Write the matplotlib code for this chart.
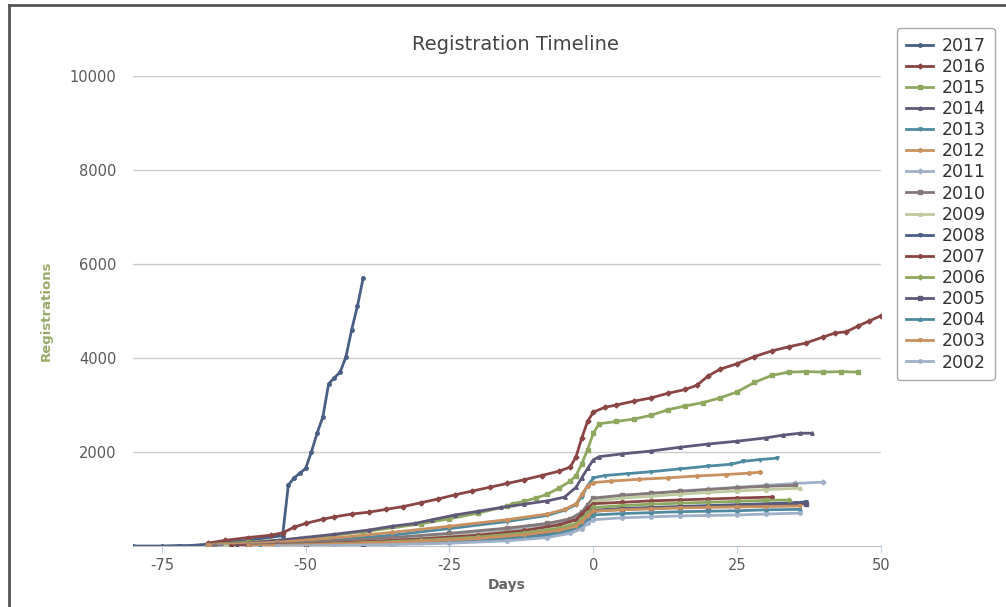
import numpy as np
import matplotlib.pyplot as plt
from matplotlib.lines import Line2D

plt.rcParams['font.family'] = ['DejaVu Sans']
plt.rcParams['axes.unicode_minus'] = False

# series in legend order (day, registrations)
years = ['2017', '2016', '2015', '2014', '2013', '2012', '2011', '2010',
         '2009', '2008', '2007', '2006', '2005', '2004', '2003', '2002']

days_2017 = [-80, -75, -72, -70, -67, -60, -54, -53, -52, -51, -50, -49, -48, -47, -46, -45, -44, -43, -42, -41, -40]
vals_2017 = [0, 0, 10, 10, 40, 120, 220, 1300, 1450, 1550, 1650, 2000, 2400, 2750, 3450, 3580, 3700, 4020, 4600, 5100, 5700]

days_2016 = [-67, -64, -60, -56, -54, -52, -50, -47, -45, -42, -39, -36, -33, -30, -27, -24, -21, -18, -15, -12,
             -9, -6, -4, -3, -2, -1, 0, 2, 4, 7, 10, 13, 16, 18, 20, 22, 25, 28, 31, 34, 37, 40, 42, 44, 46, 48, 50]
vals_2016 = [60, 120, 180, 230, 280, 400, 480, 570, 620, 680, 720, 780, 840, 920, 1000, 1090, 1170, 1250, 1330, 1410,
             1500, 1590, 1680, 1900, 2300, 2650, 2850, 2950, 3000, 3080, 3150, 3250, 3330, 3420, 3620, 3760, 3880,
             4030, 4150, 4240, 4320, 4450, 4530, 4560, 4680, 4790, 4900]

days_2015 = [-67, -60, -50, -40, -30, -25, -20, -15, -14, -12, -10, -8, -6, -4, -3, -2, -1, 0, 1, 4, 7, 10,
             13, 16, 19, 22, 25, 28, 31, 34, 37, 40, 43, 46]
vals_2015 = [30, 80, 160, 300, 470, 580, 700, 850, 900, 950, 1020, 1100, 1230, 1380, 1500, 1750, 2050, 2400,
             2600, 2650, 2700, 2780, 2900, 2980, 3050, 3150, 3280, 3480, 3630, 3700, 3710, 3700, 3710, 3700]

days_2014 = [-67, -60, -51, -45, -39, -35, -31, -28, -24, -20, -16, -12, -8, -5, -3, -2, -1, 0, 1, 5, 10,
             15, 20, 25, 30, 33, 36, 38]
vals_2014 = [20, 60, 170, 250, 340, 420, 480, 560, 660, 740, 820, 890, 960, 1040, 1250, 1450, 1650, 1830,
             1900, 1960, 2020, 2100, 2170, 2230, 2300, 2360, 2400, 2400]

days_2013 = [-67, -55, -45, -35, -25, -15, -8, -5, -3, -2, -1, 0, 2, 6, 10, 15, 20, 24, 26, 29, 32]
vals_2013 = [10, 60, 130, 230, 370, 520, 650, 760, 880, 1050, 1280, 1450, 1500, 1540, 1580, 1640, 1700,
             1740, 1800, 1840, 1870]

days_2012 = [-67, -55, -45, -35, -25, -15, -8, -5, -3, -2, -1, 0, 3, 8, 13, 18, 23, 27, 29]
vals_2012 = [20, 80, 170, 290, 420, 560, 680, 780, 900, 1100, 1280, 1350, 1380, 1420, 1450, 1490, 1520, 1550, 1570]

days_2011 = [-65, -55, -45, -35, -25, -15, -8, -4, -2, -1, 0, 5, 10, 15, 20, 25, 30, 35, 40]
vals_2011 = [0, 30, 80, 150, 240, 350, 460, 560, 700, 850, 1000, 1070, 1120, 1170, 1210, 1250, 1290, 1330, 1360]

days_2010 = [-66, -55, -45, -35, -25, -15, -8, -4, -2, -1, 0, 5, 10, 15, 20, 25, 30, 35]
vals_2010 = [0, 40, 100, 180, 270, 380, 480, 580, 720, 880, 1020, 1080, 1120, 1160, 1200, 1240, 1270, 1290]

days_2009 = [-64, -55, -45, -35, -25, -15, -8, -4, -2, -1, 0, 5, 10, 15, 20, 25, 30, 36]
vals_2009 = [0, 20, 60, 120, 200, 300, 400, 490, 620, 780, 950, 1020, 1060, 1100, 1140, 1170, 1200, 1230]

days_2008 = [-62, -50, -40, -30, -20, -12, -6, -3, -2, -1, 0, 5, 10, 15, 20, 25, 30, 35, 37]
vals_2008 = [0, 30, 60, 100, 160, 240, 330, 420, 520, 640, 760, 800, 820, 840, 860, 880, 900, 920, 940]

days_2007 = [-63, -50, -40, -30, -20, -12, -6, -3, -2, -1, 0, 5, 10, 15, 20, 25, 31]
vals_2007 = [0, 40, 90, 150, 230, 330, 450, 560, 680, 800, 900, 930, 960, 980, 1000, 1020, 1040]

days_2006 = [-60, -50, -40, -30, -20, -12, -6, -3, -2, -1, 0, 5, 10, 15, 20, 25, 30, 34]
vals_2006 = [0, 30, 70, 120, 190, 280, 380, 470, 580, 700, 820, 860, 890, 910, 930, 950, 970, 980]

days_2005 = [-60, -50, -40, -30, -20, -12, -6, -3, -2, -1, 0, 5, 10, 15, 20, 25, 30, 37]
vals_2005 = [0, 20, 50, 90, 150, 220, 310, 400, 500, 620, 740, 780, 800, 820, 840, 860, 880, 900]

days_2004 = [-58, -45, -35, -25, -15, -8, -4, -2, -1, 0, 5, 10, 15, 20, 25, 30, 36]
vals_2004 = [0, 20, 50, 90, 150, 230, 330, 440, 560, 660, 690, 710, 730, 740, 750, 770, 780]

days_2003 = [-60, -50, -40, -30, -20, -12, -6, -3, -2, -1, 0, 5, 10, 15, 20, 25, 30, 36]
vals_2003 = [0, 25, 55, 100, 160, 240, 330, 420, 520, 640, 740, 770, 790, 810, 820, 830, 840, 850]

days_2002 = [-55, -45, -35, -25, -15, -8, -4, -2, -1, 0, 5, 10, 15, 20, 25, 30, 36]
vals_2002 = [0, 10, 30, 60, 110, 180, 270, 370, 480, 560, 600, 620, 640, 650, 660, 680, 700]

all_days = [days_2017, days_2016, days_2015, days_2014, days_2013, days_2012, days_2011, days_2010,
            days_2009, days_2008, days_2007, days_2006, days_2005, days_2004, days_2003, days_2002]
all_vals = [vals_2017, vals_2016, vals_2015, vals_2014, vals_2013, vals_2012, vals_2011, vals_2010,
            vals_2009, vals_2008, vals_2007, vals_2006, vals_2005, vals_2004, vals_2003, vals_2002]

# muted version of the old highcharts palette, cycling every 9 series
palette = ['#4a5f85', '#8a4545', '#8fa860', '#5f5878', '#4f8aa0',
           '#c99060', '#9fb0c8', '#857878', '#c0caa0']
markers = ['o', 'D', 's', '^', 'v']

fig = plt.figure(figsize=(10.06, 6.07), dpi=100)
ax = fig.add_axes([133 / 1006, 61 / 607, 748 / 1006, 470 / 607])

for i, (yr, d, v) in enumerate(zip(years, all_days, all_vals)):
    ax.plot(d, v, color=palette[i % 9], lw=2, marker=markers[i % 5], ms=2.5,
            label=yr, zorder=2 + i)

ax.set_xlim(-80, 50)
ax.set_ylim(0, 10000)
ax.set_xticks([-75, -50, -25, 0, 25, 50])
ax.set_yticks([2000, 4000, 6000, 8000, 10000])
ax.grid(axis='y', color='#cccccc', lw=1)
ax.set_axisbelow(True)
for s in ['top', 'right', 'left']:
    ax.spines[s].set_visible(False)
ax.spines['bottom'].set_color('#c0c0c0')
ax.tick_params(axis='y', length=0, pad=12, labelsize=10.5, labelcolor='#5a5a5a')
ax.tick_params(axis='x', length=5, color='#c0d0e0', pad=4, labelsize=10.5, labelcolor='#5a5a5a')

ax.set_xlabel('Days', fontsize=10, fontweight='bold', color='#666666', labelpad=3)
ax.set_ylabel('Registrations', fontsize=9.5, fontweight='bold', color='#9aaa6a', labelpad=12)

fig.text(515 / 1006, 1 - 45 / 607, 'Registration Timeline', ha='center', va='center',
         fontsize=14, color='#444444')

leg = ax.legend(loc='upper left', bbox_to_anchor=(897 / 1006, 1 - 28 / 607),
                bbox_transform=fig.transFigure, borderaxespad=0, fontsize=12.5,
                labelspacing=0.18, handlelength=1.6, handletextpad=0.5, borderpad=0.5,
                fancybox=True, framealpha=1, edgecolor='#aaaaaa')
leg.get_frame().set_linewidth(1)
for t in leg.get_texts():
    t.set_color('#333333')

# outer frame (top and left edges only)
fig.add_artist(Line2D([9 / 1006, 9 / 1006], [0, 1 - 5 / 607], transform=fig.transFigure,
                      color='#555555', lw=2))
fig.add_artist(Line2D([9 / 1006, 1], [1 - 5 / 607, 1 - 5 / 607], transform=fig.transFigure,
                      color='#555555', lw=2))

fig.savefig('out.png', dpi=100)
